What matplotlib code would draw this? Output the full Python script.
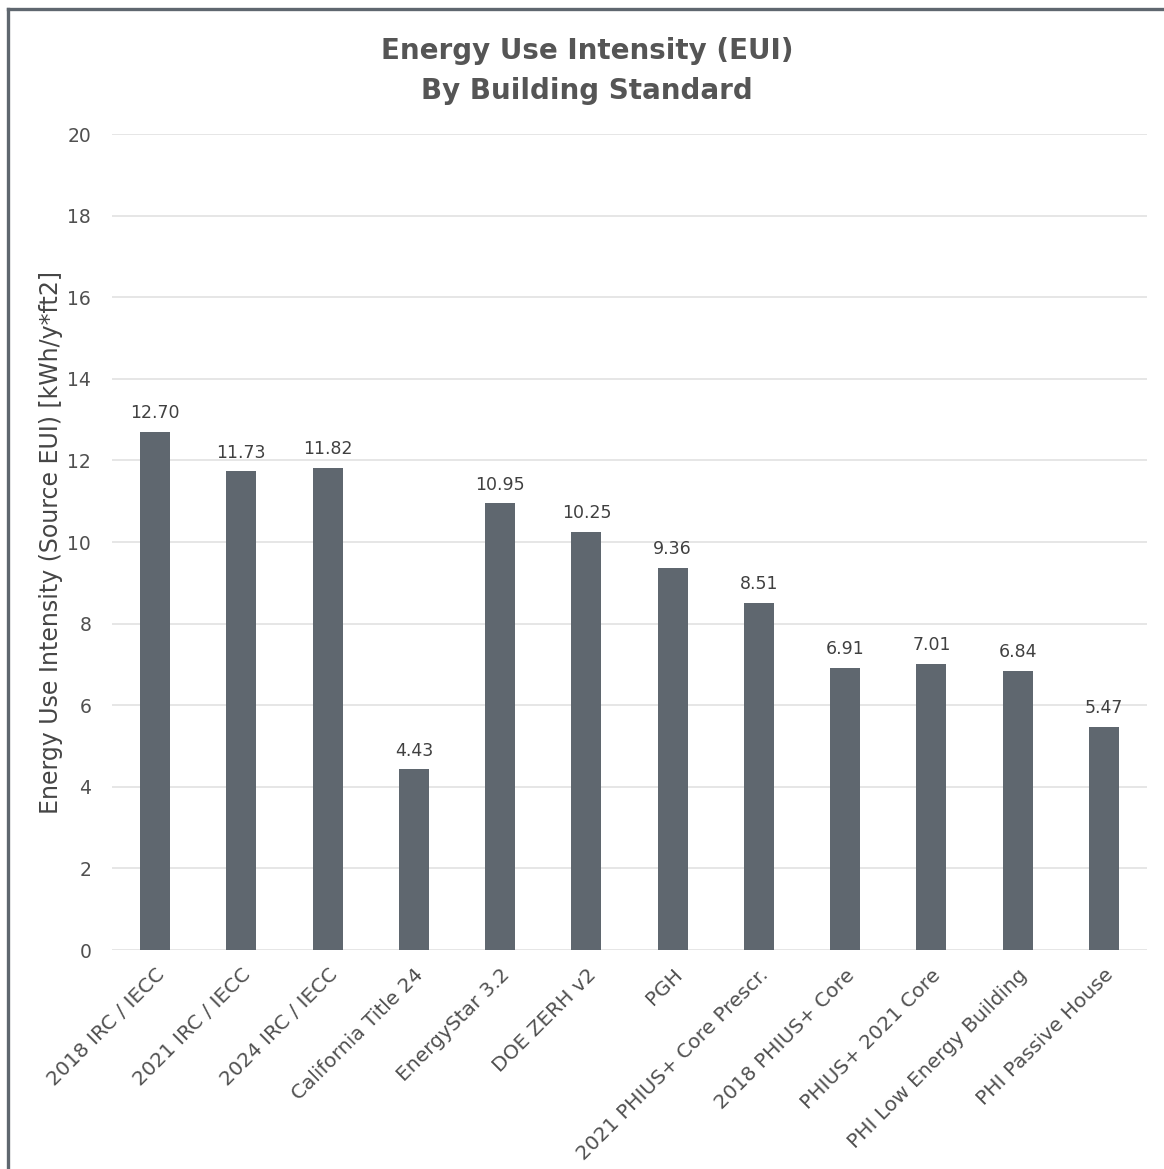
import matplotlib
matplotlib.use("Agg")
import matplotlib.pyplot as plt
from matplotlib.lines import Line2D

categories = [
    "2018 IRC / IECC", "2021 IRC / IECC", "2024 IRC / IECC", "California Title 24",
    "EnergyStar 3.2", "DOE ZERH v2", "PGH", "2021 PHIUS+ Core Prescr.",
    "2018 PHIUS+ Core", "PHIUS+ 2021 Core", "PHI Low Energy Building", "PHI Passive House",
]
eui_values = [12.70, 11.73, 11.82, 4.43, 10.95, 10.25, 9.36, 8.51, 6.91, 7.01, 6.84, 5.47]
y_ticks = [0, 2, 4, 6, 8, 10, 12, 14, 16, 18, 20]

plt.rcParams["font.family"] = ["DejaVu Sans"]

W, H = 1164, 1169
fig = plt.figure(figsize=(W / 100, H / 100), dpi=100)
fig.patch.set_facecolor("white")

ax = fig.add_axes([112 / W, 1 - 950 / H, (1147 - 112) / W, (950 - 134) / H])

bar_color = "#5f676f"
x = range(len(categories))
ax.bar(x, eui_values, width=0.35, color=bar_color, zorder=3)

for xi, v in zip(x, eui_values):
    ax.annotate(f"{v:.2f}", (xi, v), xytext=(0, 7), textcoords="offset points",
                ha="center", va="bottom", fontsize=12.5, color="#404040")

ax.set_xlim(-0.5, len(categories) - 0.5)
ax.set_ylim(0, 20)
ax.set_yticks(y_ticks)
ax.set_yticklabels([str(t) for t in y_ticks], fontsize=13.5, color="#505050")
ax.set_xticks(list(x))
ax.set_xticklabels(categories, rotation=45, ha="right", rotation_mode="anchor",
                   fontsize=14.5, color="#505050")
ax.tick_params(axis="both", length=0)
ax.tick_params(axis="y", pad=15)
ax.tick_params(axis="x", pad=11)
ax.grid(axis="y", color="#e2e2e2", linewidth=1.2, zorder=0)
for s in ax.spines.values():
    s.set_visible(False)

ax.set_ylabel("Energy Use Intensity (Source EUI) [kWh/y*ft2]", fontsize=17,
              color="#454545")
ax.yaxis.set_label_coords((63 - 112) / (1147 - 112), 0.5)

fig.text(587 / W, 1 - 71 / H, "Energy Use Intensity (EUI)\nBy Building Standard",
         ha="center", va="center", fontsize=20, fontweight="bold", color="#555555",
         linespacing=1.55)

# Outer frame along the top and left edges
fig.add_artist(Line2D([8 / W, 8 / W], [0, 1 - 9 / H], transform=fig.transFigure,
                      color="#5f676f", linewidth=2.4))
fig.add_artist(Line2D([8 / W, 1], [1 - 9 / H, 1 - 9 / H], transform=fig.transFigure,
                      color="#5f676f", linewidth=2.4))

fig.savefig("out.png", dpi=100, facecolor="white")
